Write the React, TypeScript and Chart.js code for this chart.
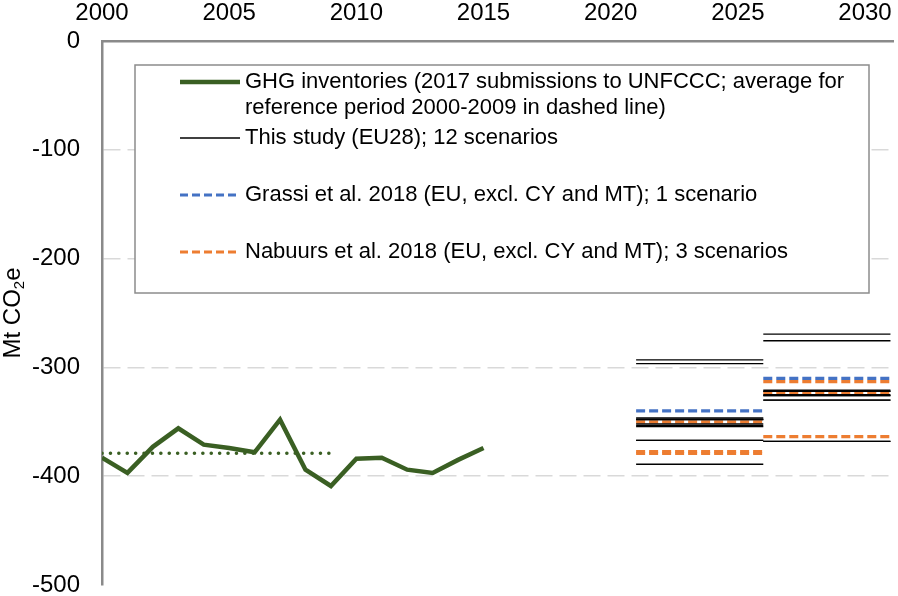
import React, { useEffect, useRef } from "react";
import { Chart, registerables } from "chart.js";

Chart.register(...registerables);

// ---- data ----
const ghgYears = [2000, 2001, 2002, 2003, 2004, 2005, 2006, 2007, 2008, 2009, 2010, 2011, 2012, 2013, 2014, 2015];
const ghgValues = [-383, -397, -373, -356, -371, -374, -378, -348, -394, -409, -384, -383, -394, -397, -385, -374];
const refPeriod = [2000, 2009];
const refAverage = -379;
const period1 = [2021, 2026];
const period2 = [2026, 2031];
const thisStudyP1 = [-293, -296.5, -346.5, -347.5, -348, -348, -352, -353.5, -354.5, -367, -367, -389];
const thisStudyP2 = [-269.5, -275.5, -321, -322, -322, -325, -326, -326, -330, -330, -368, -368];
const grassiP1 = [-340];
const grassiP2 = [-310];
const nabuursP1 = [-350, -377.5, -379];
const nabuursP2 = [-313, -323.8, -363.7];
const xTickValues = [2000, 2005, 2010, 2015, 2020, 2025, 2030];
const yTickValues = [0, -100, -200, -300, -400, -500];
const legendGhg = ["GHG inventories (2017 submissions to UNFCCC; average for", "reference period 2000-2009 in dashed line)"];
const legendThisStudy = "This study (EU28); 12 scenarios";
const legendGrassi = "Grassi et al. 2018 (EU, excl. CY and MT); 1 scenario";
const legendNabuurs = "Nabuurs et al. 2018 (EU, excl. CY and MT); 3 scenarios";

const FONT = '"Liberation Sans", Arial, sans-serif';
const GREEN = "#3A5F23";
const BLUE = "#4472C4";
const ORANGE = "#ED7D31";

function segs(values: number[], period: number[], color: string, width: number, dash: number[]) {
  return values.map((v) => ({
    data: [
      { x: period[0], y: v },
      { x: period[1], y: v },
    ],
    borderColor: color,
    borderWidth: width,
    borderDash: dash,
    pointRadius: 0,
    fill: false,
  }));
}

const legendPlugin = {
  id: "customLegend",
  afterDatasetsDraw(chart: any) {
    const ctx = chart.ctx;
    ctx.save();
    const bx = 135, by = 65, bw = 734, bh = 228;
    ctx.fillStyle = "#ffffff";
    ctx.fillRect(bx, by, bw, bh);
    ctx.strokeStyle = "#8c8c8c";
    ctx.lineWidth = 1.5;
    ctx.strokeRect(bx, by, bw, bh);

    const sx1 = 180, sx2 = 240, tx = 245;
    const line = (y: number, color: string, w: number, dash: number[]) => {
      ctx.beginPath();
      ctx.setLineDash(dash);
      ctx.strokeStyle = color;
      ctx.lineWidth = w;
      ctx.moveTo(sx1, y);
      ctx.lineTo(sx2, y);
      ctx.stroke();
      ctx.setLineDash([]);
    };
    line(82, GREEN, 4.5, []);
    line(138, "#000", 1.3, []);
    line(195, BLUE, 3, [8, 4]);
    line(252, ORANGE, 3, [8, 4]);

    ctx.fillStyle = "#000";
    ctx.font = `22px ${FONT}`;
    ctx.textBaseline = "middle";
    ctx.textAlign = "left";
    ctx.fillText(legendGhg[0], tx, 82);
    ctx.fillText(legendGhg[1], tx, 108);
    ctx.fillText(legendThisStudy, tx, 138);
    ctx.fillText(legendGrassi, tx, 195);
    ctx.fillText(legendNabuurs, tx, 252);
    ctx.restore();
  },
};

const yTitlePlugin = {
  id: "yTitle",
  afterDraw(chart: any) {
    const ctx = chart.ctx;
    const area = chart.chartArea;
    ctx.save();
    ctx.translate(13, (area.top + area.bottom) / 2);
    ctx.rotate(-Math.PI / 2);
    ctx.fillStyle = "#000";
    ctx.textBaseline = "middle";
    ctx.textAlign = "left";
    const big = `24px ${FONT}`;
    const small = `15px ${FONT}`;
    ctx.font = big;
    const w1 = ctx.measureText("Mt CO").width;
    ctx.font = small;
    const w2 = ctx.measureText("2").width;
    ctx.font = big;
    const w3 = ctx.measureText("e").width;
    const total = w1 + w2 + w3;
    let x = -total / 2;
    ctx.fillText("Mt CO", x, 0);
    x += w1;
    ctx.font = small;
    ctx.fillText("2", x, 7);
    x += w2;
    ctx.font = big;
    ctx.fillText("e", x, 0);
    ctx.restore();
  },
};

export default function App() {
  const ref = useRef<HTMLCanvasElement | null>(null);

  useEffect(() => {
    if (!ref.current) return;
    const datasets: any[] = [
      ...segs(thisStudyP1, period1, "#000000", 1.3, []),
      ...segs(thisStudyP2, period2, "#000000", 1.3, []),
      ...segs(grassiP1, period1, BLUE, 3.3, [9, 4]),
      ...segs(grassiP2, period2, BLUE, 3.3, [9, 4]),
      ...segs(nabuursP1, period1, ORANGE, 3.3, [9, 4]),
      ...segs(nabuursP2, period2, ORANGE, 3.3, [9, 4]),
      {
        data: refPeriod.map((x) => ({ x, y: refAverage })),
        borderColor: GREEN,
        borderWidth: 3.5,
        borderDash: [0.1, 8.3],
        borderCapStyle: "round",
        pointRadius: 0,
        fill: false,
      },
      {
        data: ghgYears.map((x, i) => ({ x, y: ghgValues[i] })),
        borderColor: GREEN,
        borderWidth: 4.5,
        borderJoinStyle: "miter",
        pointRadius: 0,
        tension: 0,
        fill: false,
      },
    ];

    const chart = new Chart(ref.current, {
      type: "line",
      data: { datasets },
      plugins: [legendPlugin, yTitlePlugin],
      options: {
        animation: false,
        responsive: false,
        maintainAspectRatio: false,
        layout: { padding: { left: 0, top: 0, right: 5, bottom: 11 } },
        plugins: { legend: { display: false }, tooltip: { enabled: false } },
        scales: {
          x: {
            type: "linear",
            position: "top",
            min: 2000,
            max: 2031.1,
            afterBuildTicks: (s: any) => {
              s.ticks = xTickValues.map((v) => ({ value: v }));
            },
            afterFit: (s: any) => {
              s.height = 41;
              s.paddingLeft = 0;
              s.paddingRight = 0;
              s.paddingTop = 0;
              s.paddingBottom = 0;
            },
            ticks: {
              color: "#000",
              font: { family: FONT, size: 24 },
              padding: 13,
              maxRotation: 0,
              callback: (v: any) => String(v),
            },
            grid: { display: false, drawTicks: false },
            border: { display: true, color: "#8a8a8a", width: 2.5 },
          },
          y: {
            type: "linear",
            min: -500,
            max: 0,
            afterBuildTicks: (s: any) => {
              s.ticks = yTickValues.map((v) => ({ value: v }));
            },
            afterFit: (s: any) => {
              s.width = 102;
              s.paddingLeft = 0;
              s.paddingRight = 0;
              s.paddingTop = 0;
              s.paddingBottom = 0;
            },
            ticks: {
              color: "#000",
              font: { family: FONT, size: 24 },
              padding: 22,
              callback: (v: any) => String(v),
            },
            grid: {
              drawTicks: false,
              lineWidth: 1.5,
              color: (c: any) =>
                c.tick && (c.tick.value === 0 || c.tick.value === -500) ? "rgba(0,0,0,0)" : "#D9D9D9",
            },
            border: { display: true, color: "#8a8a8a", width: 2.5, dash: [17, 7] },
          },
        },
      } as any,
    });
    return () => chart.destroy();
  }, []);

  return (
    <div style={{ position: "absolute", left: 0, top: 0, width: 898, height: 596, background: "#fff" }}>
      <canvas ref={ref} width={898} height={596} style={{ display: "block" }} />
    </div>
  );
}
